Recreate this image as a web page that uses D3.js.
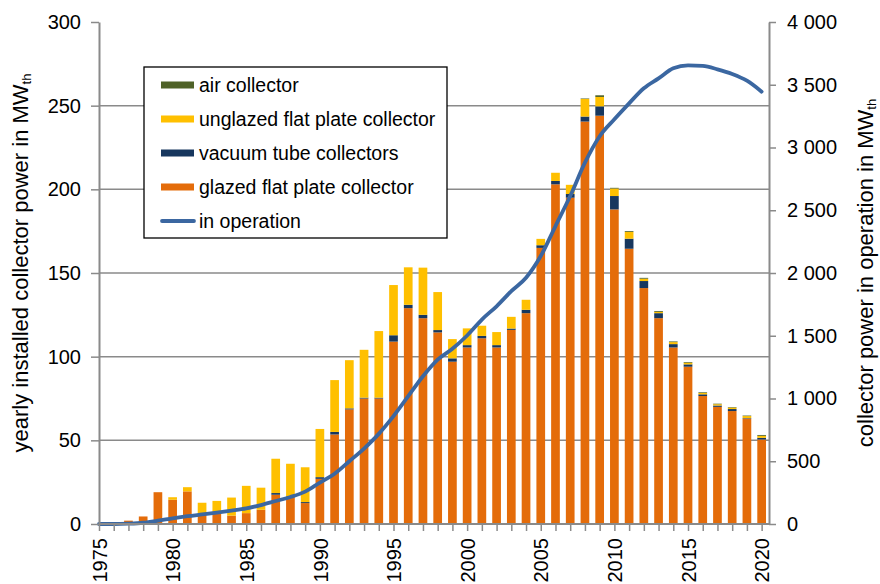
<!DOCTYPE html>
<html>
<head>
<meta charset="utf-8">
<script src="https://cdn.jsdelivr.net/npm/d3@7/dist/d3.min.js"></script>
<style>
  html, body { margin: 0; padding: 0; background: #fff; }
  svg { display: block; font-family: 'Liberation Sans', Arial, sans-serif; }
</style>
</head>
<body>
<div id="app"></div>
<script>
const years = [
  1975, 1976, 1977, 1978, 1979, 1980, 1981, 1982, 1983, 1984,
  1985, 1986, 1987, 1988, 1989, 1990, 1991, 1992, 1993, 1994,
  1995, 1996, 1997, 1998, 1999, 2000, 2001, 2002, 2003, 2004,
  2005, 2006, 2007, 2008, 2009, 2010, 2011, 2012, 2013, 2014,
  2015, 2016, 2017, 2018, 2019, 2020
];

// yearly installed, MW_th
const glazed = [
  0, 0, 2, 4.5, 19, 14.5, 19.5, 5.5, 6, 5,
  6.5, 8.5, 17.5, 16, 12.5, 27, 53.5, 68.5, 75, 75,
  109, 129, 123, 114.5, 97, 105.5, 111, 105.5, 116, 126,
  165, 203, 195, 240.5, 244, 188, 164.5, 141, 123, 105.5,
  94, 76.5, 70, 67.5, 63, 50.5
];
const vacuum = [
  0, 0, 0, 0, 0, 0, 0, 0, 0, 0,
  0, 0, 1, 0.5, 0.6, 1, 1.5, 0.6, 0.5, 0.5,
  3.8, 2, 2, 1.4, 2, 1.4, 1.4, 1.4, 0.8, 2,
  1.6, 2, 2.2, 3, 5.6, 8, 6, 4.2, 3, 2,
  1.4, 1, 0.8, 1.2, 0.3, 1
];
const unglazed = [
  0, 0, 0, 0, 0, 1.5, 2.5, 7.2, 7.8, 10.8,
  16.3, 13.2, 20.5, 19.5, 20.8, 28.8, 31, 28.8, 28.6, 39.8,
  30, 22.4, 28.2, 22.7, 11.5, 10, 6.1, 7.8, 7, 6,
  3.8, 4.9, 5.5, 10.5, 5.6, 4.5, 4, 1.4, 0.8, 1.2,
  1, 0.8, 0.8, 0.9, 1.2, 1.2
];
const air = [
  0, 0, 0, 0, 0, 0, 0, 0, 0, 0,
  0, 0, 0, 0, 0, 0, 0, 0, 0, 0,
  0, 0, 0, 0, 0, 0, 0, 0, 0, 0,
  0, 0, 0, 0.3, 1, 0.4, 0.5, 0.5, 0.5, 0.4,
  0.4, 0.4, 0.3, 0.3, 0.3, 0.5
];

// total in operation, MW_th (right axis)
const inOperation = [
  0, 0, 3, 10, 26, 45, 62, 76, 90, 106,
  124, 151, 183, 215, 258, 330, 400, 500, 601, 718,
  859, 1018, 1177, 1310, 1396, 1502, 1629, 1735, 1855, 1962,
  2135, 2374, 2613, 2879, 3090, 3225, 3352, 3472, 3551, 3631,
  3655, 3650, 3623, 3586, 3532, 3445
];

const leftTicks = [0, 50, 100, 150, 200, 250, 300];
const rightTicks = [0, 500, 1000, 1500, 2000, 2500, 3000, 3500, 4000];
const yearLabels = [1975, 1980, 1985, 1990, 1995, 2000, 2005, 2010, 2015, 2020];

const seriesKeys = ['glazed', 'vacuum', 'unglazed', 'air'];
const seriesColors = {
  glazed: '#e46c0a',
  vacuum: '#17375e',
  unglazed: '#ffc000',
  air: '#4f6228'
};
const legendItems = [
  { label: 'air collector', color: seriesColors.air, type: 'bar' },
  { label: 'unglazed flat plate collector', color: seriesColors.unglazed, type: 'bar' },
  { label: 'vacuum tube collectors', color: seriesColors.vacuum, type: 'bar' },
  { label: 'glazed flat plate collector', color: seriesColors.glazed, type: 'bar' },
  { label: 'in operation', color: '#3b67a1', type: 'line' }
];

const width = 880;
const height = 584;
const plot = { left: 99, right: 769, top: 22, bottom: 524 };
const axisColor = '#8a8a8a';
const barWidth = 8.7;

const rows = years.map((year, i) => ({
  year,
  glazed: glazed[i],
  vacuum: vacuum[i],
  unglazed: unglazed[i],
  air: air[i]
}));

const x = d3.scaleLinear()
  .domain([1975, 2020.5])
  .range([plot.left, plot.right]);

const yLeft = d3.scaleLinear()
  .domain([0, 300])
  .range([plot.bottom, plot.top]);

const yRight = d3.scaleLinear()
  .domain([0, 4000])
  .range([plot.bottom, plot.top]);

const svg = d3.select('#app').append('svg')
  .attr('width', width)
  .attr('height', height);

// gridlines
svg.append('g')
  .selectAll('line')
  .data(leftTicks.filter(d => d > 0 && d < 300))
  .enter().append('line')
  .attr('x1', plot.left)
  .attr('x2', plot.right)
  .attr('y1', d => yLeft(d))
  .attr('y2', d => yLeft(d))
  .attr('stroke', axisColor)
  .attr('stroke-width', 1.5);

// stacked bars
const stacked = d3.stack().keys(seriesKeys)(rows);

svg.append('g')
  .selectAll('g')
  .data(stacked)
  .enter().append('g')
  .attr('fill', d => seriesColors[d.key])
  .selectAll('rect')
  .data(d => d.filter(s => s[1] - s[0] > 0))
  .enter().append('rect')
  .attr('x', d => x(d.data.year) - barWidth / 2)
  .attr('width', barWidth)
  .attr('y', d => yLeft(d[1]))
  .attr('height', d => yLeft(d[0]) - yLeft(d[1]));

// in operation line
const line = d3.line()
  .x((d, i) => x(years[i]))
  .y(d => yRight(d))
  .curve(d3.curveMonotoneX);

svg.append('path')
  .datum(inOperation)
  .attr('d', line)
  .attr('fill', 'none')
  .attr('stroke', '#3b67a1')
  .attr('stroke-width', 3.8)
  .attr('stroke-linecap', 'round');

// axes
const styleAxis = g => {
  g.select('.domain').attr('stroke', axisColor).attr('stroke-width', 2);
  g.selectAll('.tick line').attr('stroke', axisColor).attr('stroke-width', 1.5);
  g.selectAll('.tick text')
    .attr('fill', '#000')
    .style('font-size', '20px')
    .style('font-family', "'Liberation Sans', Arial, sans-serif");
};

svg.append('g')
  .attr('transform', `translate(${plot.left},0)`)
  .call(d3.axisLeft(yLeft).tickValues(leftTicks).tickSize(8).tickSizeOuter(0).tickPadding(10))
  .call(styleAxis);

svg.append('g')
  .attr('transform', `translate(${plot.right},0)`)
  .call(
    d3.axisRight(yRight)
      .tickValues(rightTicks)
      .tickSize(7)
      .tickSizeOuter(0)
      .tickPadding(11)
      .tickFormat(d => d3.format(',')(d).replace(',', '\u00a0'))
  )
  .call(styleAxis);

svg.append('g')
  .attr('transform', `translate(0,${plot.bottom})`)
  .call(
    d3.axisBottom(x)
      .tickValues(years)
      .tickSize(7)
      .tickSizeOuter(0)
      .tickFormat(d => yearLabels.includes(d) ? d : '')
  )
  .call(styleAxis)
  .call(g => g.select('.domain').attr('d', `M${plot.left},0H${plot.right}`))
  .call(g => g.selectAll('.tick text')
    .attr('transform', 'rotate(-90)')
    .attr('text-anchor', 'end')
    .attr('x', -14)
    .attr('y', 0)
    .attr('dy', '0.36em'));

// axis titles
const leftTitle = svg.append('text')
  .attr('transform', 'translate(28,263) rotate(-90)')
  .attr('text-anchor', 'middle')
  .style('font-size', '22px')
  .attr('fill', '#000');
leftTitle.append('tspan').text('yearly installed collector power in MW');
leftTitle.append('tspan').attr('dy', '0.25em').style('font-size', '13px').text('th');

const rightTitle = svg.append('text')
  .attr('transform', 'translate(873,273) rotate(-90)')
  .attr('text-anchor', 'middle')
  .style('font-size', '22px')
  .attr('fill', '#000');
rightTitle.append('tspan').text('collector power in operation in MW');
rightTitle.append('tspan').attr('dy', '0.2em').style('font-size', '13px').text('th');

// legend
const legend = svg.append('g');

legend.append('rect')
  .attr('x', 144)
  .attr('y', 67)
  .attr('width', 303)
  .attr('height', 171)
  .attr('fill', '#fff')
  .attr('stroke', '#000')
  .attr('stroke-width', 1.3);

const legendRow = legend.selectAll('g')
  .data(legendItems)
  .enter().append('g')
  .attr('transform', (d, i) => `translate(161,${85 + i * 34})`);

legendRow.filter(d => d.type === 'bar')
  .append('rect')
  .attr('x', 0)
  .attr('y', -3.5)
  .attr('width', 33)
  .attr('height', 7)
  .attr('fill', d => d.color);

legendRow.filter(d => d.type === 'line')
  .append('line')
  .attr('x1', 1)
  .attr('x2', 33)
  .attr('stroke', d => d.color)
  .attr('stroke-width', 3.8)
  .attr('stroke-linecap', 'round');

legendRow.append('text')
  .attr('x', 38)
  .attr('dy', '0.35em')
  .style('font-size', '19.5px')
  .attr('fill', '#000')
  .text(d => d.label);
</script>
</body>
</html>
